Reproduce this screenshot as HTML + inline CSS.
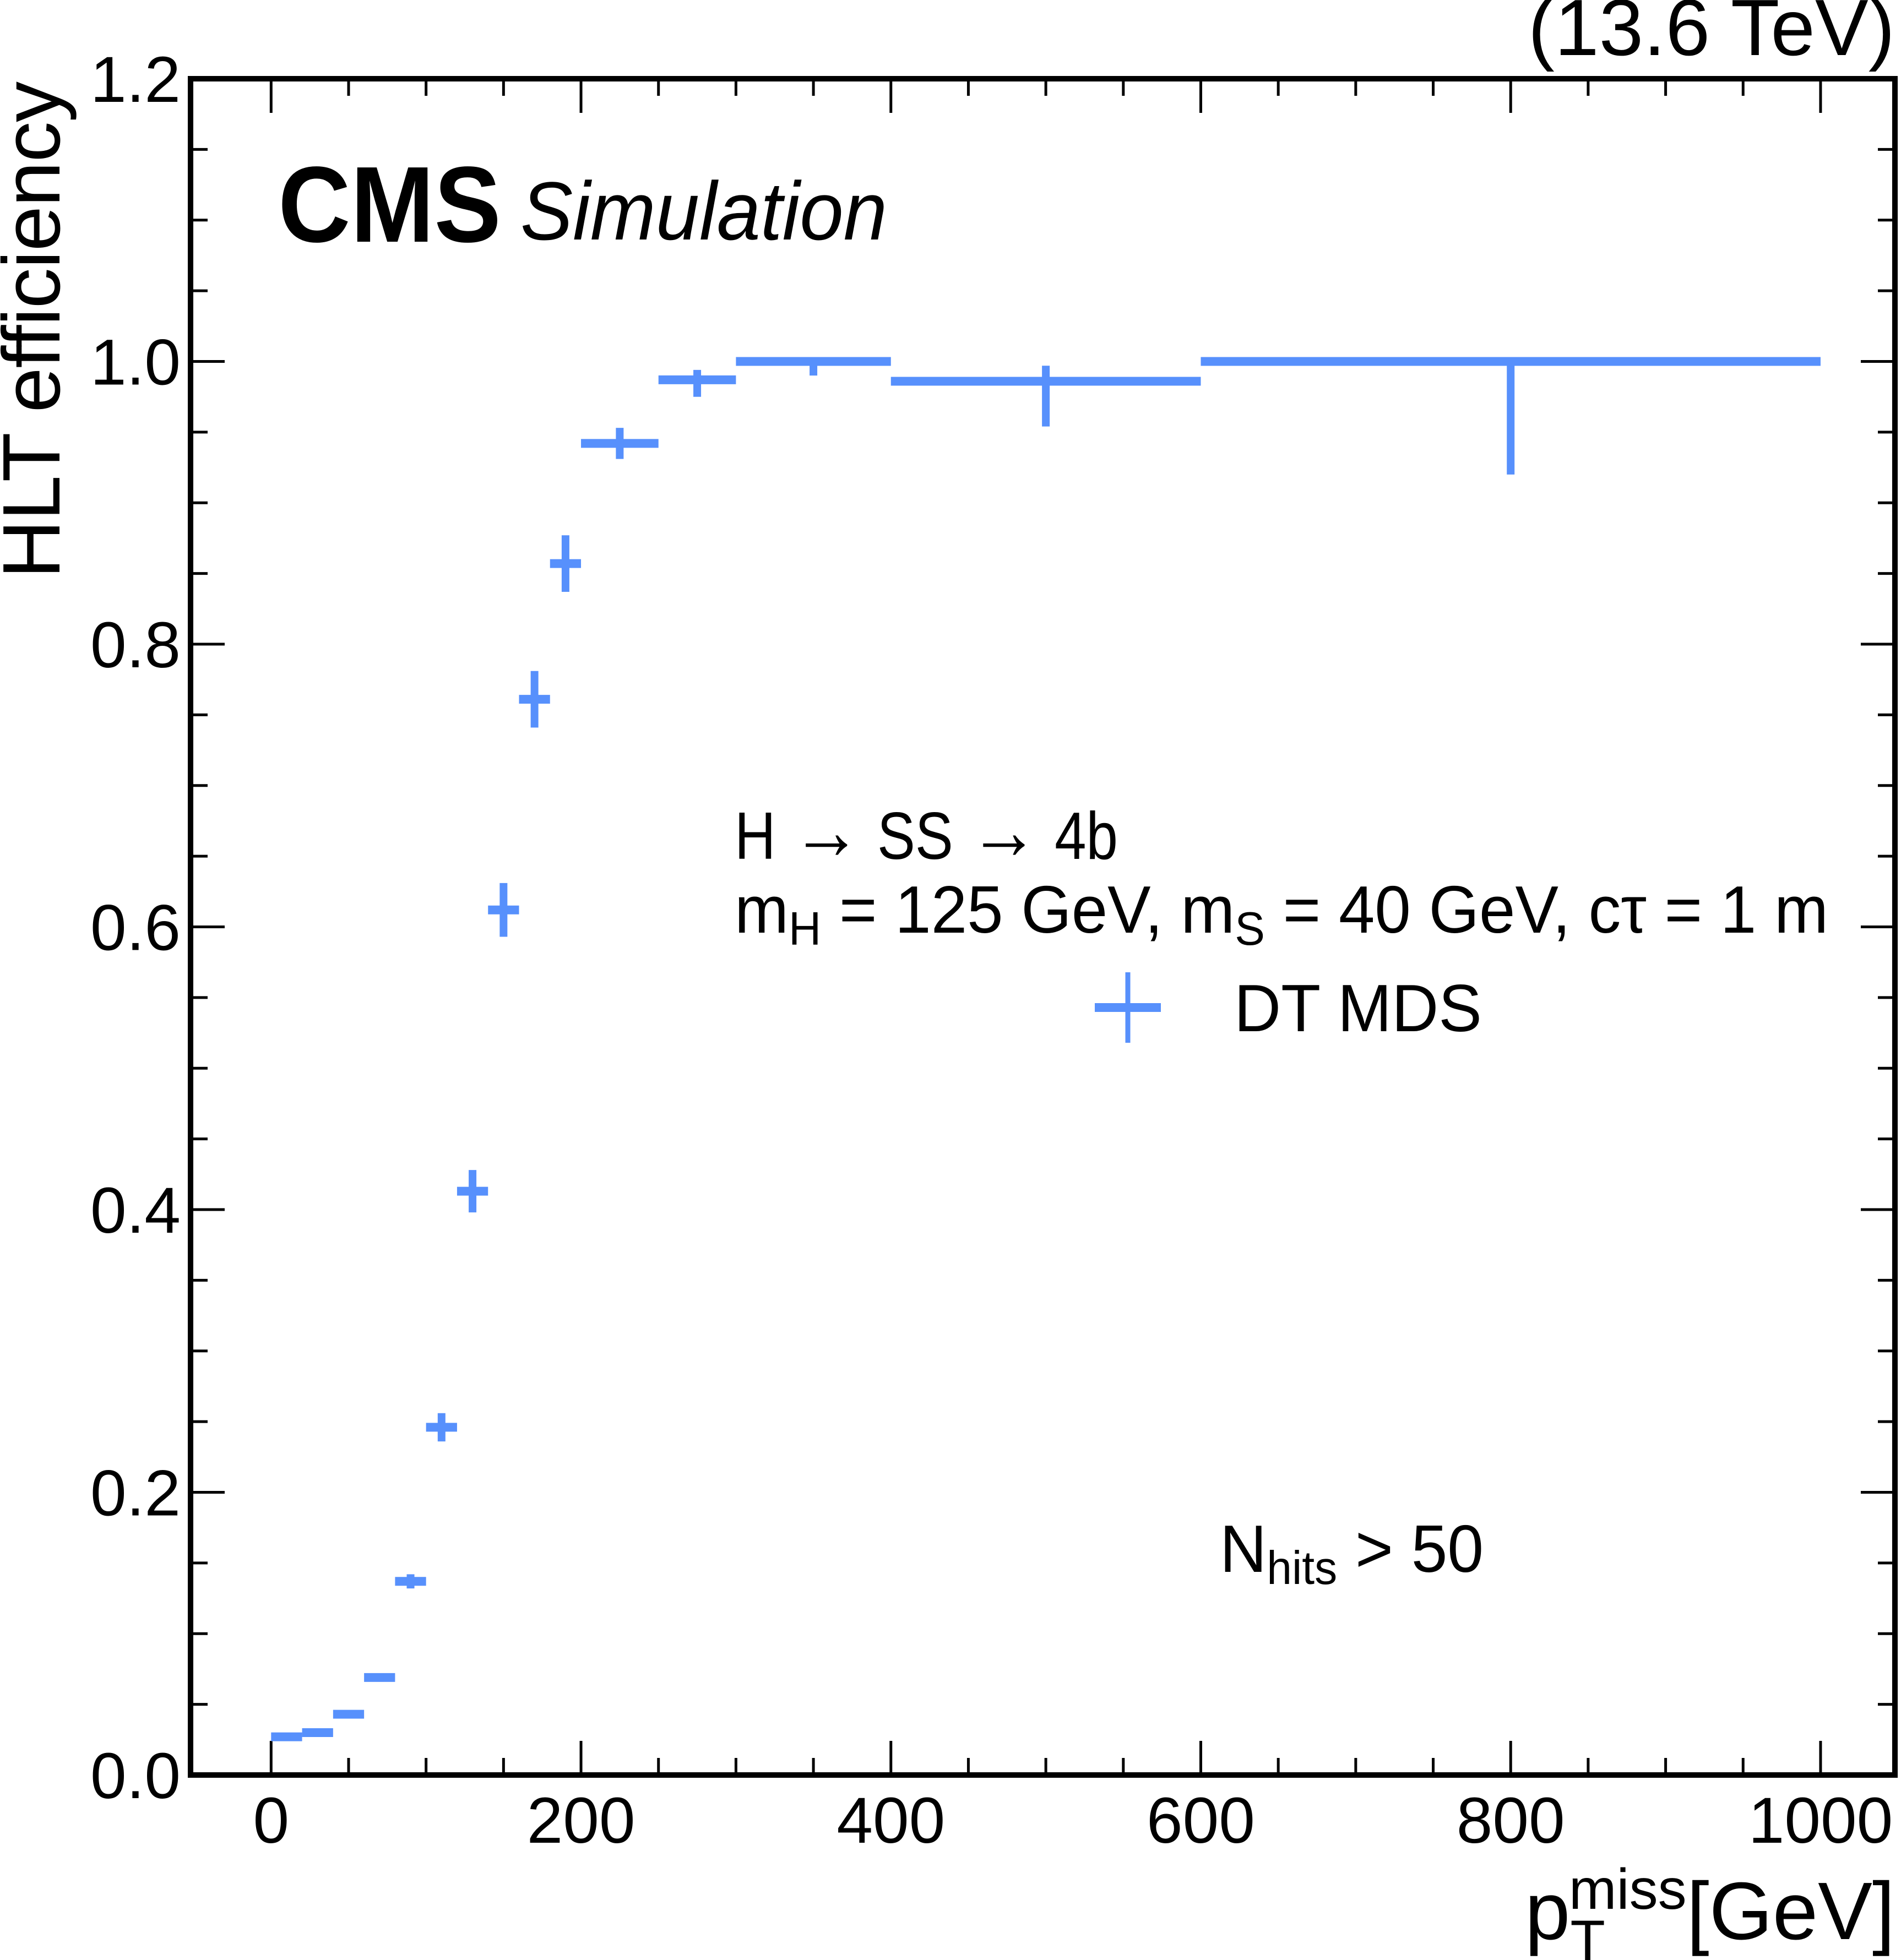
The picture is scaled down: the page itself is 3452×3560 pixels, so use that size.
<!DOCTYPE html>
<html><head><meta charset="utf-8"><style>
html,body{margin:0;padding:0;background:#fff;}
svg{display:block;}
text{font-family:"Liberation Sans",Arial,sans-serif;fill:#000;}
</style></head><body>
<svg id="chart" width="3452" height="3560" viewBox="0 0 3452 3560" xmlns="http://www.w3.org/2000/svg">
<g id="ticks"></g>
<g id="marks"></g>
<rect x="346" y="143" width="3095" height="3081" fill="none" stroke="#000" stroke-width="10"/>
<g id="labels"></g>
<text transform="translate(108,148) rotate(-90)" text-anchor="end" font-size="148" textLength="903">HLT efficiency</text>
<text x="3441" y="3522" text-anchor="end" font-size="148">p<tspan font-size="104" dy="38">T</tspan><tspan font-size="104" dx="-66" dy="-93">miss</tspan><tspan dy="55">[GeV]</tspan></text>
<text x="3441" y="100" text-anchor="end" font-size="145">(13.6 TeV)</text>
<text x="505" y="439" font-size="196" font-weight="bold" textLength="405" lengthAdjust="spacingAndGlyphs">CMS</text>
<text x="945" y="435" font-size="150" font-style="italic" textLength="666" lengthAdjust="spacingAndGlyphs">Simulation</text>
<text x="1334" y="1560" font-size="122" textLength="696" lengthAdjust="spacingAndGlyphs">H <tspan font-size="150">→</tspan> SS <tspan font-size="150">→</tspan> 4b</text>
<text x="1334" y="1694" font-size="122" textLength="1986" lengthAdjust="spacingAndGlyphs">m<tspan font-size="85" dy="22">H</tspan><tspan dy="-22"> = 125 GeV, m</tspan><tspan font-size="85" dy="22">S</tspan><tspan dy="-22"> = 40 GeV, cτ = 1 m</tspan></text>
<g>
<line x1="1988" x2="2108" y1="1830" y2="1830" stroke="#5790fc" stroke-width="16"/>
<line x1="2048" x2="2048" y1="1766" y2="1894" stroke="#5790fc" stroke-width="9"/>
<text x="2241" y="1873" font-size="122" textLength="450" lengthAdjust="spacingAndGlyphs">DT MDS</text>
</g>
<text x="2215" y="2855" font-size="122" textLength="479" lengthAdjust="spacingAndGlyphs">N<tspan font-size="85" dy="22">hits</tspan><tspan dy="-22"> &gt; 50</tspan></text>
</svg>
<script>
const binLow = [0,20,40,60,80,100,120,140,160,180,200,250,300,400,600];
const binHigh = [20,40,60,80,100,120,140,160,180,200,250,300,400,600,1000];
const effValues = [0.027,0.030,0.043,0.069,0.137,0.246,0.413,0.612,0.761,0.857,0.942,0.987,1.0,0.986,1.0];
const errUp = [0.002,0.002,0.002,0.003,0.005,0.010,0.015,0.019,0.020,0.020,0.011,0.007,0.0,0.011,0.0];
const errDown = [0.002,0.002,0.002,0.003,0.005,0.010,0.015,0.019,0.020,0.020,0.011,0.012,0.010,0.032,0.080];
const xTickLabels = [0,200,400,600,800,1000];
const yTickLabels = ["0.0","0.2","0.4","0.6","0.8","1.0","1.2"];

const NS="http://www.w3.org/2000/svg";
const X0=346,X1=3441,Y0=3224,Y1=143;
const xMin=-52,xMax=1048,yMin=0,yMax=1.2;
const sx=v=>X0+(v-xMin)/(xMax-xMin)*(X1-X0);
const sy=v=>Y0-(v-yMin)/(yMax-yMin)*(Y0-Y1);
function mk(tag,attrs,parent){const e=document.createElementNS(NS,tag);for(const k in attrs)e.setAttribute(k,attrs[k]);parent.appendChild(e);return e;}
const tg=document.getElementById('ticks'),mg=document.getElementById('marks'),lg=document.getElementById('labels');
for(let v=0;v<=1000;v+=50){
  const major=v%200===0,L=major?62:31,x=sx(v);
  const t1=mk('line',{x1:x,x2:x,y1:Y0,y2:Y0-L,stroke:'#000','stroke-width':5},tg);
  
  
  const t2=mk('line',{x1:x,x2:x,y1:Y1,y2:Y1+L,stroke:'#000','stroke-width':5},tg);
  
  
}
xTickLabels.forEach(v=>{
  const t=mk('text',{x:sx(v),y:3347,'text-anchor':'middle','font-size':118},lg);
  t.textContent=v;
  
  
});
for(let i=0;i<=24;i++){
  const v=i*0.05,major=i%4===0,L=major?62:31,y=sy(v);
  const t1=mk('line',{x1:X0,x2:X0+L,y1:y,y2:y,stroke:'#000','stroke-width':5},tg);
  
  
  const t2=mk('line',{x1:X1,x2:X1-L,y1:y,y2:y,stroke:'#000','stroke-width':5},tg);
  
  
}
yTickLabels.forEach(s=>{
  const t=mk('text',{x:328,y:sy(parseFloat(s))+42,'text-anchor':'end','font-size':118},lg);
  t.textContent=s;
  
  
});
effValues.forEach((v,i)=>{
  const g=mk('g',{},mg);
  
  
  const y=sy(v),xc=sx((binLow[i]+binHigh[i])/2);
  mk('line',{x1:sx(binLow[i]),x2:sx(binHigh[i]),y1:y,y2:y,stroke:'#5790fc','stroke-width':16},g);
  mk('line',{x1:xc,x2:xc,y1:sy(v+errUp[i]),y2:sy(v-errDown[i]),stroke:'#5790fc','stroke-width':14},g);
});
</script>
</body></html>
